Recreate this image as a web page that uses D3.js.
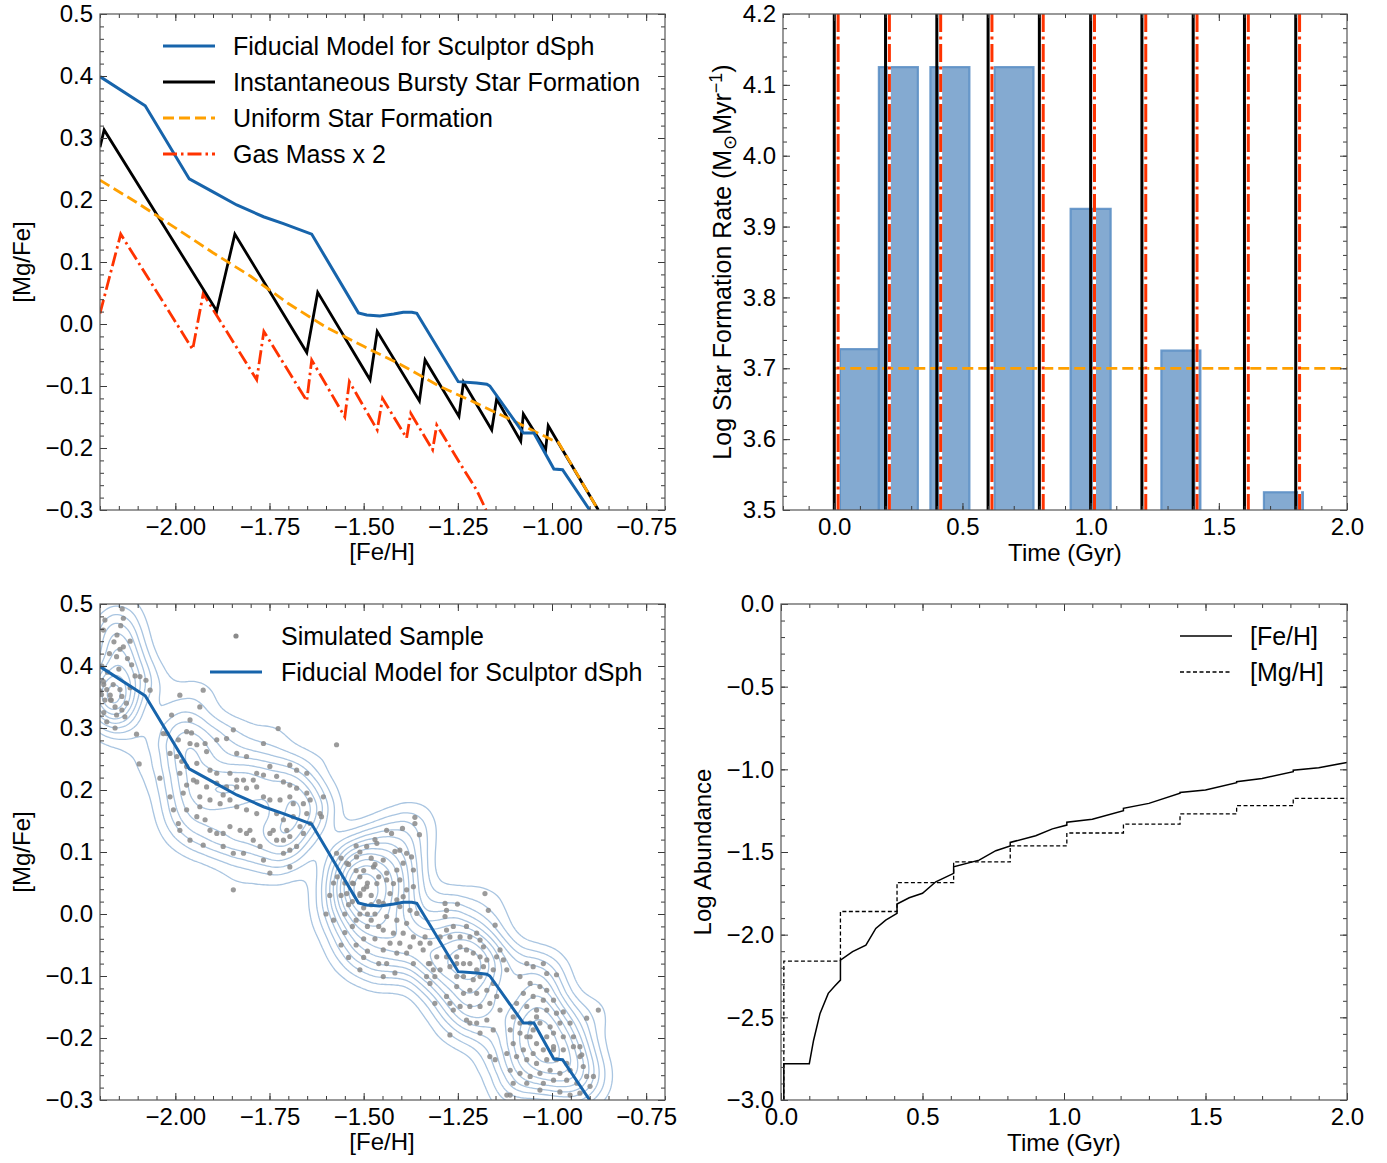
<!DOCTYPE html>
<html><head><meta charset="utf-8">
<script src="https://cdn.jsdelivr.net/npm/d3@7"></script>
<style>body{margin:0;background:#fff}</style>
</head><body>
<svg id="fig" width="1387" height="1163"></svg>
<script>
// ---------------- DATA ----------------
// Top-left: [Mg/Fe] vs [Fe/H] tracks
const fidFe = [-2.2,-2.08,-1.963,-1.9,-1.837,-1.766,-1.713,-1.638,-1.514,-1.492,-1.457,-1.42,-1.395,-1.372,-1.359,-1.249,-1.2,-1.173,-1.165,-1.076,-1.048,-0.995,-0.972,-0.9];
const fidMg = [0.399,0.352,0.234,0.213,0.192,0.173,0.162,0.145,0.018,0.0145,0.013,0.016,0.019,0.019,0.0173,-0.093,-0.095,-0.097,-0.1,-0.176,-0.176,-0.234,-0.235,-0.3];
const burstFe = [-2.2,-2.189,-1.89,-1.842,-1.651,-1.622,-1.483,-1.464,-1.352,-1.337,-1.247,-1.235,-1.160,-1.147,-1.083,-1.076,-1.017,-1.010,-0.983,-0.877];
const burstMg = [0.285,0.313,0.021,0.145,-0.046,0.051,-0.090,-0.012,-0.124,-0.058,-0.149,-0.094,-0.171,-0.121,-0.189,-0.145,-0.203,-0.164,-0.192,-0.3];
const uniFe = [-2.2,-2.1,-2.0,-1.9,-1.8,-1.7,-1.6,-1.5,-1.4,-1.3,-1.2,-1.1,-1.0,-0.983,-0.877];
const uniMg = [0.232,0.195,0.155,0.115,0.077,0.033,-0.005,-0.036,-0.066,-0.1,-0.128,-0.157,-0.187,-0.191,-0.3];
const gasFe = [-2.2,-2.145,-1.954,-1.926,-1.784,-1.765,-1.651,-1.638,-1.55,-1.538,-1.464,-1.45,-1.386,-1.375,-1.317,-1.306,-1.244,-1.2,-1.175];
const gasMg = [0.017,0.145,-0.041,0.049,-0.09,-0.012,-0.124,-0.058,-0.150,-0.093,-0.171,-0.12,-0.184,-0.144,-0.203,-0.163,-0.225,-0.268,-0.3];
const legendTL = ["Fiducial Model for Sculptor dSph","Instantaneous Bursty Star Formation","Uniform Star Formation","Gas Mass x 2"];

// Top-right: star formation history
const barStart = [0.022,0.174,0.375,0.625,0.922,1.276,1.676];
const barEnd   = [0.174,0.326,0.527,0.777,1.078,1.428,1.828];
const barSFR   = [3.727,4.125,4.125,4.125,3.925,3.725,3.525];
const burstTimes = [0,0.2,0.4,0.6,0.8,1.0,1.2,1.4,1.6,1.8];
const gasBurstTimes = [0.015,0.215,0.415,0.615,0.815,1.015,1.215,1.415,1.615,1.815];
const uniformSFR = 3.7;

// Bottom-right: abundance evolution
const feT = [0.01,0.01,0.1,0.115,0.138,0.167,0.19,0.21,0.21,0.253,0.3,0.335,0.37,0.41,0.41,0.453,0.5,0.547,0.61,0.61,0.7,0.759,0.81,0.81,0.9,0.959,1.01,1.01,1.1,1.21,1.21,1.3,1.41,1.41,1.5,1.61,1.61,1.7,1.81,1.81,1.9,2.0];
const feH = [-3.0,-2.78,-2.78,-2.64,-2.476,-2.355,-2.31,-2.275,-2.154,-2.103,-2.063,-1.962,-1.912,-1.871,-1.815,-1.777,-1.750,-1.680,-1.629,-1.589,-1.549,-1.492,-1.464,-1.442,-1.402,-1.36,-1.337,-1.32,-1.302,-1.25,-1.236,-1.206,-1.145,-1.14,-1.125,-1.081,-1.075,-1.055,-1.014,-1.005,-0.990,-0.958];
const mgT = [0.01,0.01,0.21,0.41,0.61,0.81,1.01,1.21,1.41,1.61,1.81,2.0];
const mgH = [-3.0,-2.16,-1.86,-1.685,-1.56,-1.463,-1.385,-1.331,-1.270,-1.220,-1.176,-1.176];

// Bottom-left: simulated sample ([Fe/H], [Mg/Fe])
const simSample = [
[-2.187,0.474],[-2.191,0.458],[-2.138,0.477],[-2.141,0.492],[-2.163,0.439],[-2.147,0.427],[-2.138,0.431],[-2.156,0.415],[-2.127,0.412],[-2.116,0.402],[-2.094,0.383],[-2.078,0.377],[-2.067,0.361],[-2.107,0.384],[-2.191,0.375],[-2.182,0.362],[-2.173,0.353],[-2.187,0.345],[-2.172,0.345],[-2.196,0.354],[-2.147,0.362],[-2.142,0.351],[-2.160,0.334],[-2.142,0.329],[-2.134,0.318],[-2.156,0.321],[-2.182,0.310],[-2.103,0.290],[-2.096,0.242],[-2.041,0.219],[-2.19,0.37],[-2.18,0.39],[-2.165,0.37],[-2.15,0.395],[-2.17,0.345],[-2.195,0.40],[-2.12,0.365],[-2.13,0.34],[-2.16,0.30],[-2.19,0.325],[-2.2,0.36],[-2.175,0.42],[-2.155,0.45],[-2.145,0.465],[-2.12,0.44],
[-2.010,0.321],[-1.988,0.353],[-1.935,0.334],[-1.926,0.361],[-1.961,0.313],[-1.970,0.294],[-1.957,0.292],[-2.023,0.291],[-2.032,0.291],[-1.992,0.281],[-1.961,0.275],[-1.943,0.273],[-1.917,0.262],[-1.921,0.275],[-1.890,0.281],[-1.864,0.283],[-1.846,0.297],[-1.837,0.259],[-1.811,0.254],[-1.766,0.275],[-1.727,0.299],[-1.749,0.238],[-1.696,0.240],[-1.678,0.232],[-1.651,0.227],[-1.607,0.189],[-1.572,0.273],[-1.616,0.162],[-1.612,0.157],[-2.014,0.259],[-1.996,0.254],[-1.983,0.246],[-1.970,0.238],[-1.943,0.243],[-1.908,0.232],[-1.890,0.227],[-1.855,0.227],[-1.837,0.216],[-1.819,0.216],[-1.793,0.216],[-1.784,0.227],[-1.766,0.224],[-1.731,0.222],[-1.713,0.213],[-1.696,0.208],[-1.678,0.203],[-1.651,0.195],[-1.642,0.184],[-1.660,0.178],[-1.687,0.178],[-1.696,0.189],[-1.722,0.184],[-1.749,0.184],[-1.766,0.189],[-1.784,0.205],[-1.811,0.203],[-1.837,0.205],[-1.864,0.205],[-1.873,0.192],[-1.890,0.211],[-1.917,0.205],[-1.943,0.213],[-1.970,0.208],[-1.988,0.227],[-2.014,0.189],[-2.005,0.168],[-1.992,0.146],[-1.988,0.135],[-1.970,0.168],[-1.943,0.157],[-1.935,0.173],[-1.921,0.152],[-1.908,0.135],[-1.890,0.130],[-1.873,0.130],[-1.855,0.141],[-1.828,0.135],[-1.811,0.130],[-1.793,0.119],[-1.775,0.109],[-1.749,0.130],[-1.731,0.119],[-1.713,0.119],[-1.696,0.125],[-1.678,0.109],[-1.713,0.098],[-1.696,0.103],[-1.660,0.130],[-1.642,0.146],[-1.961,0.119],[-1.926,0.111],[-1.873,0.109],[-1.846,0.098],[-1.819,0.098],[-1.749,0.066],[-1.802,0.135],[-1.740,0.135],[-1.704,0.135],[-1.846,0.039],[-1.766,0.087],[-1.784,0.162],[-1.811,0.168],[-1.837,0.173],[-1.855,0.184],[-1.881,0.178],[-1.908,0.184],[-1.935,0.189],[-1.731,0.162],[-1.713,0.152],[-1.687,0.157],[-1.669,0.141],[-1.651,0.162],[-1.696,0.076],[-1.952,0.216],[-1.979,0.195],
[-1.572,0.098],[-1.545,0.082],[-1.519,0.092],[-1.492,0.109],[-1.465,0.114],[-1.439,0.135],[-1.510,0.060],[-1.474,0.076],[-1.448,0.087],[-1.527,0.049],[-1.492,0.044],[-1.465,0.049],[-1.439,0.055],[-1.545,0.033],[-1.510,0.033],
[-1.57,0.06],[-1.56,0.03],[-1.55,0.0],[-1.55,-0.03],[-1.54,0.08],[-1.53,0.05],[-1.53,0.02],[-1.52,-0.01],[-1.52,-0.05],[-1.51,0.1],[-1.5,0.07],[-1.5,0.04],[-1.5,0.01],[-1.49,-0.02],[-1.49,-0.06],[-1.48,0.09],[-1.48,0.03],[-1.47,0.0],[-1.47,-0.04],[-1.46,0.06],[-1.46,0.02],[-1.46,-0.08],[-1.58,-0.01],[-1.59,0.03],[-1.56,0.09],[-1.52,0.11],[-1.47,0.12],[-1.54,-0.07],[-1.51,-0.09],[-1.6,0.0],[-1.55,0.05],[-1.51,0.03],[-1.49,0.0],[-1.48,-0.01],[-1.53,-0.02],[-1.5,-0.04],[-1.52,0.07],[-1.49,0.05],[-1.47,0.08],[-1.56,-0.05],[-1.58,0.05],[-1.5,-0.07],[-1.48,0.015],[-1.51,0.0],[-1.46,-0.02],[-1.54,0.015],
[-1.364,0.156],[-1.364,0.146],[-1.352,0.128],[-1.397,0.138],[-1.426,0.130],[-1.417,0.101],[-1.404,0.103],[-1.386,0.098],[-1.373,0.092],[-1.368,0.071],[-1.395,0.082],[-1.412,0.071],[-1.439,0.066],[-1.421,0.049],[-1.404,0.055],[-1.386,0.039],[-1.368,0.044],[-1.395,0.028],[-1.412,0.023],[-1.430,0.033],[-1.448,0.017],[-1.404,0.012],[-1.377,0.006],[-1.359,0.001],[-1.386,-0.015],[-1.412,-0.010],[-1.439,-0.004],[-1.448,-0.026],[-1.421,-0.031],[-1.395,-0.031],[-1.368,-0.037],[-1.350,-0.047],[-1.377,-0.053],[-1.404,-0.047],[-1.430,-0.047],[-1.448,-0.058],[-1.412,-0.063],[-1.386,-0.063],[-1.417,-0.095],[-1.448,-0.101],[-1.368,-0.080],[-1.439,-0.080],[-1.337,-0.037],[-1.342,-0.058],[-1.324,-0.047],[-1.328,-0.080],[-1.315,-0.090],
[-1.284,0.017],[-1.280,0.006],[-1.251,0.016],[-1.284,-0.004],[-1.280,-0.026],[-1.262,-0.020],[-1.227,-0.020],[-1.200,-0.031],[-1.182,-0.053],[-1.169,0.006],[-1.151,-0.018],[-1.178,0.033],[-1.297,-0.037],[-1.271,-0.037],[-1.244,-0.037],[-1.218,-0.037],[-1.191,-0.042],[-1.244,-0.053],[-1.227,-0.058],[-1.209,-0.063],[-1.191,-0.069],[-1.173,-0.074],[-1.253,-0.069],[-1.280,-0.069],[-1.306,-0.069],[-1.324,-0.080],[-1.311,-0.101],[-1.297,-0.090],[-1.271,-0.085],[-1.253,-0.080],[-1.235,-0.080],[-1.218,-0.080],[-1.200,-0.090],[-1.182,-0.085],[-1.156,-0.090],[-1.147,-0.069],[-1.138,-0.058],[-1.129,-0.074],[-1.120,-0.090],[-1.253,-0.101],[-1.235,-0.101],[-1.209,-0.106],[-1.191,-0.101],[-1.218,-0.123],[-1.235,-0.128],[-1.253,-0.117],[-1.200,-0.128],[-1.173,-0.123],[-1.156,-0.112],[-1.147,-0.133],[-1.165,-0.144],[-1.138,-0.155],[-1.191,-0.149],[-1.218,-0.149],[-1.244,-0.149],[-1.271,-0.144],[-1.280,-0.133],[-1.262,-0.155],[-1.227,-0.171],[-1.200,-0.176],[-1.173,-0.171],[-1.156,-0.187],[-1.218,-0.176],[-1.191,-0.192],[-1.271,-0.195],[-1.311,-0.144],[-1.324,-0.112],[-1.333,-0.101],[-1.151,-0.235],[-1.165,-0.230],
[-1.067,-0.080],[-1.050,-0.085],[-1.023,-0.080],[-0.988,-0.098],[-1.014,-0.096],[-1.085,-0.101],[-1.058,-0.112],[-1.032,-0.117],[-1.014,-0.123],[-1.076,-0.128],[-1.050,-0.133],[-1.023,-0.139],[-0.996,-0.139],[-1.094,-0.144],[-1.067,-0.149],[-1.041,-0.155],[-1.014,-0.155],[-0.988,-0.160],[-0.970,-0.158],[-1.103,-0.166],[-1.085,-0.176],[-1.058,-0.176],[-1.032,-0.176],[-1.005,-0.182],[-0.979,-0.176],[-0.952,-0.176],[-1.111,-0.187],[-1.085,-0.192],[-1.058,-0.198],[-1.041,-0.209],[-1.014,-0.198],[-0.996,-0.192],[-0.970,-0.198],[-0.943,-0.198],[-1.103,-0.209],[-1.076,-0.219],[-1.050,-0.225],[-1.023,-0.219],[-0.996,-0.214],[-0.970,-0.219],[-0.943,-0.214],[-0.926,-0.214],[-1.120,-0.225],[-1.094,-0.230],[-1.067,-0.235],[-1.041,-0.241],[-1.014,-0.235],[-0.988,-0.235],[-0.961,-0.241],[-0.926,-0.230],[-1.111,-0.252],[-1.085,-0.257],[-1.058,-0.262],[-1.032,-0.257],[-1.005,-0.252],[-0.979,-0.257],[-0.952,-0.252],[-0.917,-0.246],[-1.103,-0.273],[-1.067,-0.273],[-1.023,-0.273],[-0.996,-0.268],[-0.961,-0.268],[-0.934,-0.273],[-0.908,-0.262],[-0.890,-0.262],[-1.032,-0.284],[-0.979,-0.287],[-0.952,-0.292],[-0.926,-0.289],[-0.899,-0.278],[-1.120,-0.292],[-1.111,-0.292],[-0.877,-0.155],[-0.908,-0.168],[-0.921,-0.227],[-1.041,-0.166],[-1.067,-0.198],[-0.996,-0.219],[-1.050,-0.187]
];

// Tick labels
const feTicks = [-2.0,-1.75,-1.5,-1.25,-1.0,-0.75];
const mgTicks = [-0.3,-0.2,-0.1,0.0,0.1,0.2,0.3,0.4,0.5];
const timeTicks = [0.0,0.5,1.0,1.5,2.0];
const sfrTicks = [3.5,3.6,3.7,3.8,3.9,4.0,4.1,4.2];
const abTicks = [-3.0,-2.5,-2.0,-1.5,-1.0,-0.5,0.0];

// ---------------- STYLE ----------------
const FONT = "'Liberation Sans', Arial, Helvetica, sans-serif";
const FS = 24;
const BLUE = "#1764ab", ORANGE = "#ffa000", RED = "#ff3300";
const svg = d3.select("#fig");
svg.append("rect").attr("width",1387).attr("height",1163).attr("fill","#fff");

const P = {
  TL:{left:100,top:14,w:565,h:496},
  TR:{left:783,top:14,w:564,h:496},
  BL:{left:100,top:604,w:565,h:496},
  BR:{left:781,top:604,w:566,h:496}
};

function panel(key){
  const p = P[key];
  const g = svg.append("g").attr("transform",`translate(${p.left},${p.top})`);
  g.append("clipPath").attr("id","clip"+key).append("rect").attr("width",p.w).attr("height",p.h);
  const inner = g.append("g").attr("clip-path",`url(#clip${key})`);
  return {g, inner, p};
}

function axes(pn, x, y, xMaj, xMin, yMaj, yMin, xf, yf){
  const {g,p} = pn;
  const style = s => s.attr("font-size",FS).attr("font-family",FONT).attr("color","#3a3a3a")
     .call(s=>s.select(".domain").remove()).call(s=>s.selectAll("text").attr("fill","#000"));
  g.append("g").attr("transform",`translate(0,${p.h})`).call(d3.axisBottom(x).tickValues(xMin).tickSizeInner(-4).tickSizeOuter(0).tickFormat("")).call(style);
  g.append("g").attr("transform",`translate(0,${p.h})`).call(d3.axisBottom(x).tickValues(xMaj).tickSizeInner(-7).tickSizeOuter(0).tickPadding(8).tickFormat(xf)).call(style);
  g.append("g").call(d3.axisTop(x).tickValues(xMin).tickSizeInner(-4).tickSizeOuter(0).tickFormat("")).call(style);
  g.append("g").call(d3.axisTop(x).tickValues(xMaj).tickSizeInner(-7).tickSizeOuter(0).tickFormat("")).call(style);
  g.append("g").call(d3.axisLeft(y).tickValues(yMin).tickSizeInner(-4).tickSizeOuter(0).tickFormat("")).call(style);
  g.append("g").call(d3.axisLeft(y).tickValues(yMaj).tickSizeInner(-7).tickSizeOuter(0).tickPadding(7).tickFormat(yf)).call(style);
  g.append("g").attr("transform",`translate(${p.w},0)`).call(d3.axisRight(y).tickValues(yMin).tickSizeInner(-4).tickSizeOuter(0).tickFormat("")).call(style);
  g.append("g").attr("transform",`translate(${p.w},0)`).call(d3.axisRight(y).tickValues(yMaj).tickSizeInner(-7).tickSizeOuter(0).tickFormat("")).call(style);
  g.append("rect").attr("width",p.w).attr("height",p.h).attr("fill","none").attr("stroke","#555").attr("stroke-width",1.2);
}

function text(s, x, y, str, opt={}){
  return s.append("text").attr("x",x).attr("y",y).attr("font-family",FONT).attr("font-size",opt.fs||FS)
    .attr("text-anchor",opt.anchor||"start").attr("dy",opt.dy||"0.35em").attr("fill","#000").text(str);
}
function vlabel(cx, cy, str){
  return svg.append("text").attr("transform",`translate(${cx},${cy}) rotate(-90)`).attr("text-anchor","middle")
    .attr("dy","0.35em").attr("font-family",FONT).attr("font-size",FS).attr("fill","#000").text(str);
}
const zip = (a,b) => a.map((v,i)=>[v,b[i]]);
const f2 = d3.format(".2f"), f1 = d3.format(".1f");
const rng = (a,b,s) => d3.range(Math.round(a/s), Math.round(b/s)+1).map(i=>+(i*s).toFixed(4));

// ---------------- TOP-LEFT ----------------
{
  const pn = panel("TL");
  const x = d3.scaleLinear().domain([-2.2,-0.7]).range([0,pn.p.w]);
  const y = d3.scaleLinear().domain([-0.3,0.5]).range([pn.p.h,0]);
  const line = d3.line().x(d=>x(d[0])).y(d=>y(d[1]));
  pn.inner.append("path").attr("d",line(zip(gasFe,gasMg))).attr("fill","none").attr("stroke",RED).attr("stroke-width",2.8).attr("stroke-dasharray","14,4,2.5,4");
  pn.inner.append("path").attr("d",line(zip(burstFe,burstMg))).attr("fill","none").attr("stroke","#000").attr("stroke-width",2.8);
  pn.inner.append("path").attr("d",line(zip(uniFe,uniMg))).attr("fill","none").attr("stroke",ORANGE).attr("stroke-width",2.8).attr("stroke-dasharray","11,5");
  pn.inner.append("path").attr("d",line(zip(fidFe,fidMg))).attr("fill","none").attr("stroke",BLUE).attr("stroke-width",3);
  axes(pn, x, y, feTicks, rng(-2.2,-0.7,0.05), mgTicks, rng(-0.3,0.5,0.02), f2, f1);
  const sty = [{c:BLUE,d:null},{c:"#000",d:null},{c:ORANGE,d:"11,5"},{c:RED,d:"14,4,2.5,4"}];
  legendTL.forEach((t,i)=>{
    const yy = 32 + i*36;
    pn.g.append("line").attr("x1",63).attr("x2",115).attr("y1",yy).attr("y2",yy).attr("stroke",sty[i].c).attr("stroke-width",2.8).attr("stroke-dasharray",sty[i].d);
    text(pn.g, 133, yy, t, {fs:25});
  });
  text(svg, 382, 552, "[Fe/H]", {anchor:"middle"});
  vlabel(22, 262, "[Mg/Fe]");
}

// ---------------- TOP-RIGHT ----------------
{
  const pn = panel("TR");
  const x = d3.scaleLinear().domain([-0.2,2.0]).range([0,pn.p.w]);
  const y = d3.scaleLinear().domain([3.5,4.2]).range([pn.p.h,0]);
  const bars = barStart.map((s,i)=>({s, e:barEnd[i], v:barSFR[i]}));
  pn.inner.selectAll(".bar").data(bars).join("rect").attr("class","bar")
    .attr("x",d=>x(d.s)).attr("width",d=>x(d.e)-x(d.s))
    .attr("y",d=>y(d.v)).attr("height",d=>y(3.5)-y(d.v)+4)
    .attr("fill","#84aad1").attr("stroke","#5d90c5").attr("stroke-width",2.2).attr("stroke-opacity",0.9);
  pn.inner.append("line").attr("x1",x(0)).attr("x2",x(2.2)).attr("y1",y(uniformSFR)).attr("y2",y(uniformSFR))
    .attr("stroke",ORANGE).attr("stroke-width",2.8).attr("stroke-dasharray","11,5");
  pn.inner.selectAll(".bl").data(burstTimes).join("line").attr("class","bl")
    .attr("x1",d=>x(d)).attr("x2",d=>x(d)).attr("y1",0).attr("y2",pn.p.h).attr("stroke","#000").attr("stroke-width",3);
  pn.inner.selectAll(".wl").data(gasBurstTimes).join("line").attr("class","wl")
    .attr("x1",d=>x(d)).attr("x2",d=>x(d)).attr("y1",0).attr("y2",pn.p.h).attr("stroke","#fff").attr("stroke-width",3);
  pn.inner.selectAll(".rl").data(gasBurstTimes).join("line").attr("class","rl")
    .attr("x1",d=>x(d)).attr("x2",d=>x(d)).attr("y1",0).attr("y2",pn.p.h).attr("stroke",RED).attr("stroke-width",3).attr("stroke-dasharray","18,4.5,3,4.5");
  axes(pn, x, y, timeTicks, rng(-0.2,2.0,0.1), sfrTicks, rng(3.5,4.2,0.02), f1, f1);
  text(svg, 1065, 553, "Time (Gyr)", {anchor:"middle"});
  const t = svg.append("text").attr("transform",`translate(722,262) rotate(-90)`).attr("text-anchor","middle")
    .attr("dy","0.35em").attr("font-family",FONT).attr("font-size",25).attr("fill","#000");
  t.append("tspan").text("Log Star Formation Rate (M");
  t.append("tspan").attr("font-size",18).attr("dy",5).text("⊙");
  t.append("tspan").attr("dy",-5).text("Myr");
  t.append("tspan").attr("font-size",18).attr("dy",-9).text("−1");
  t.append("tspan").attr("dy",9).text(")");
}

// ---------------- BOTTOM-LEFT ----------------
{
  const pn = panel("BL");
  const x = d3.scaleLinear().domain([-2.2,-0.7]).range([0,pn.p.w]);
  const y = d3.scaleLinear().domain([-0.3,0.5]).range([pn.p.h,0]);
  const dens = d3.contourDensity().x(d=>x(d[0])).y(d=>y(d[1])).size([pn.p.w,pn.p.h]).cellSize(2).bandwidth(15).thresholds(10)(simSample);
  pn.inner.selectAll(".ct").data(dens).join("path").attr("class","ct").attr("d",d3.geoPath())
    .attr("fill","none").attr("stroke","#a9c5e1").attr("stroke-width",1.3);
  pn.inner.selectAll(".pt").data(simSample).join("circle").attr("class","pt")
    .attr("cx",d=>x(d[0])).attr("cy",d=>y(d[1])).attr("r",2.6).attr("fill","#8a8a8a").attr("fill-opacity",0.85);
  const line = d3.line().x(d=>x(d[0])).y(d=>y(d[1]));
  pn.inner.append("path").attr("d",line(zip(fidFe,fidMg))).attr("fill","none").attr("stroke",BLUE).attr("stroke-width",3);
  axes(pn, x, y, feTicks, rng(-2.2,-0.7,0.05), mgTicks, rng(-0.3,0.5,0.02), f2, f1);
  pn.g.append("circle").attr("cx",136).attr("cy",32).attr("r",2.6).attr("fill","#8a8a8a");
  text(pn.g, 181, 32, "Simulated Sample", {fs:25});
  pn.g.append("line").attr("x1",110).attr("x2",162).attr("y1",68).attr("y2",68).attr("stroke",BLUE).attr("stroke-width",3);
  text(pn.g, 181, 68, "Fiducial Model for Sculptor dSph", {fs:25});
  text(svg, 382, 1142, "[Fe/H]", {anchor:"middle"});
  vlabel(22, 852, "[Mg/Fe]");
}

// ---------------- BOTTOM-RIGHT ----------------
{
  const pn = panel("BR");
  const x = d3.scaleLinear().domain([0,2]).range([0,pn.p.w]);
  const y = d3.scaleLinear().domain([-3,0]).range([pn.p.h,0]);
  const line = d3.line().x(d=>x(d[0])).y(d=>y(d[1]));
  pn.inner.append("path").attr("d",line.curve(d3.curveStepAfter)(zip(mgT,mgH))).attr("fill","none").attr("stroke","#000").attr("stroke-width",1.3).attr("stroke-dasharray","4,2.5");
  pn.inner.append("path").attr("d",d3.line().x(d=>x(d[0])).y(d=>y(d[1]))(zip(feT,feH))).attr("fill","none").attr("stroke","#000").attr("stroke-width",1.5);
  axes(pn, x, y, timeTicks, rng(0,2,0.1), abTicks, rng(-3,0,0.1), f1, f1);
  pn.g.append("line").attr("x1",399).attr("x2",451).attr("y1",32).attr("y2",32).attr("stroke","#000").attr("stroke-width",1.5);
  text(pn.g, 469, 32, "[Fe/H]", {fs:25});
  pn.g.append("line").attr("x1",399).attr("x2",451).attr("y1",68).attr("y2",68).attr("stroke","#000").attr("stroke-width",1.3).attr("stroke-dasharray","4,2.5");
  text(pn.g, 469, 68, "[Mg/H]", {fs:25});
  text(svg, 1064, 1143, "Time (Gyr)", {anchor:"middle"});
  vlabel(703, 852, "Log Abundance");
}
</script>
</body></html>
